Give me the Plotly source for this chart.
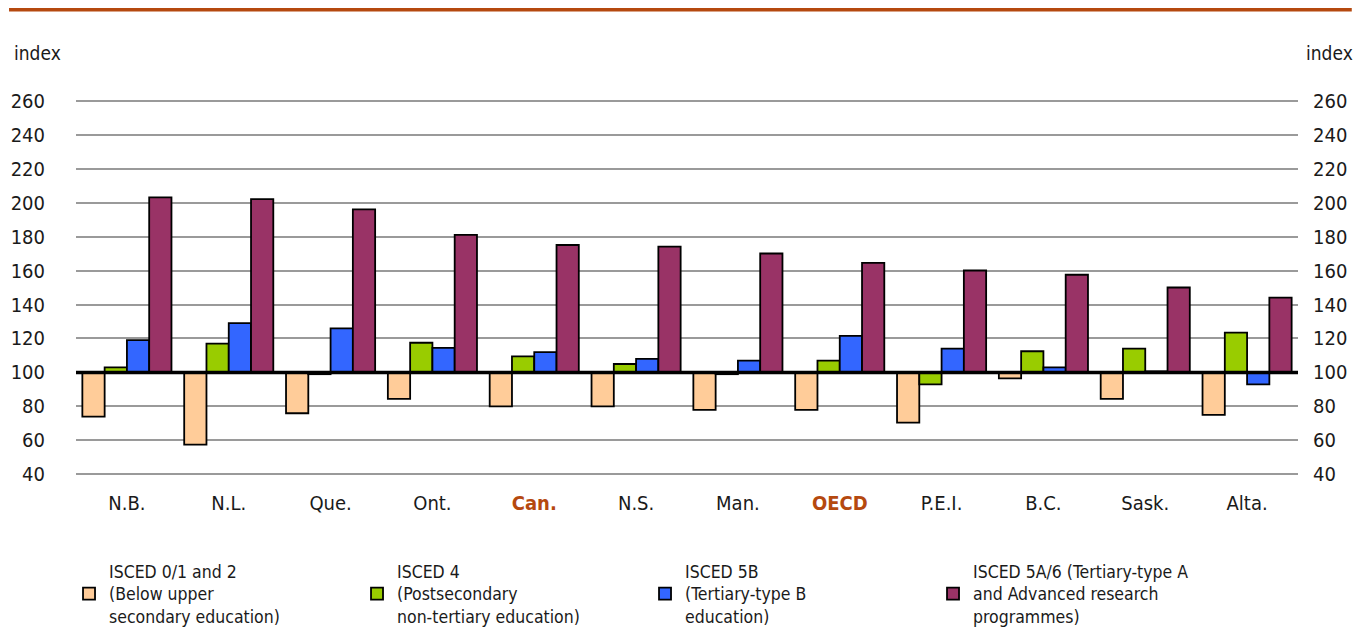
import plotly.graph_objects as go

# Provinces / reference rows, in chart order
regions = ['N.B.', 'N.L.', 'Que.', 'Ont.', 'Can.', 'N.S.', 'Man.', 'OECD',
           'P.E.I.', 'B.C.', 'Sask.', 'Alta.']

# Relative earnings index (upper secondary = 100)
isced_012 = [74, 57.5, 76, 84.5, 80, 80, 78, 78, 70.5, 96.5, 84.5, 75]
isced_4 = [103, 117, 99, 117.5, 109.5, 105, 99, 107, 93, 112.5, 114, 123.5]
isced_5b = [119, 129, 126, 114.5, 112, 108, 107, 121.5, 114, 103, 100.7, 93]
isced_5a6 = [203, 202, 196, 181, 175, 174, 170, 164.5, 160, 157.5, 150, 144]

series_names = [
    'ISCED 0/1 and 2<br>(Below upper<br>secondary education)',
    'ISCED 4<br>(Postsecondary<br>non-tertiary education)',
    'ISCED 5B<br>(Tertiary-type B<br>education)',
    'ISCED 5A/6 (Tertiary-type A<br>and Advanced research<br>programmes)',
]
series_values = [isced_012, isced_4, isced_5b, isced_5a6]
series_colours = ['#FFCC99', '#99CC00', '#3366FF', '#993366']

highlighted = ['Can.', 'OECD']
y_ticks = list(range(40, 261, 20))

BASE = 100
ACCENT = '#B5490F'
FONT = 'Liberation Sans Narrow, DejaVu Sans Condensed, sans-serif'
TEXT_COLOUR = '#1a1a1a'

tick_text = []
for r in regions:
    if r in highlighted:
        tick_text.append("<b><span style='color:%s'>%s</span></b>" % (ACCENT, r))
    else:
        tick_text.append(r)

fig = go.Figure()

for name, values, colour in zip(series_names, series_values, series_colours):
    fig.add_trace(go.Bar(
        x=regions,
        y=[v - BASE for v in values],
        base=BASE,
        name=name,
        marker=dict(color=colour, line=dict(color='black', width=1.8)),
    ))

# invisible trace so the right-hand axis is drawn
fig.add_trace(go.Scatter(x=[regions[0]], y=[BASE], yaxis='y2', mode='markers',
                         marker=dict(opacity=0, size=1), showlegend=False,
                         hoverinfo='skip'))

# page body has an 8px margin, so the figure is 16px smaller than the window
fig.update_layout(
    width=1356, height=620,
    margin=dict(l=68, r=66, t=90, b=150.5, autoexpand=False),
    paper_bgcolor='white', plot_bgcolor='white',
    font=dict(family=FONT, size=20, color=TEXT_COLOUR),
    barmode='group', bargap=0.125, bargroupgap=0,
    showlegend=True,
    legend=dict(
        orientation='h', xref='container', yref='container',
        x=0.045, xanchor='left', y=0.121, yanchor='top',
        entrywidth=243, entrywidthmode='pixels', valign='middle',
        font=dict(family=FONT, size=17.5, color=TEXT_COLOUR),
        traceorder='normal', bgcolor='rgba(0,0,0,0)',
    ),
    xaxis=dict(
        tickmode='array', tickvals=regions, ticktext=tick_text,
        range=[-0.5, len(regions) - 0.5],
        showgrid=False, showline=False, zeroline=False, ticks='',
        ticklabelstandoff=12, fixedrange=True,
    ),
    yaxis=dict(
        range=[38.5, 261.5], tickvals=y_ticks, showgrid=True,
        gridcolor='#9a9a9a', gridwidth=2, zeroline=False, showline=False,
        ticks='', ticklabelstandoff=30,
    ),
    yaxis2=dict(
        range=[38.5, 261.5], tickvals=y_ticks, overlaying='y', side='right',
        showgrid=False, zeroline=False, showline=False, ticks='',
        ticklabelstandoff=14,
    ),
    shapes=[
        # heavy baseline at index 100
        dict(type='line', xref='paper', x0=0, x1=1, yref='y', y0=BASE, y1=BASE,
             line=dict(color='black', width=3.5), layer='above'),
        # accent rule across the top
        dict(type='line', xref='paper', x0=-0.0548, x1=1.044, yref='paper',
             y0=1.2332, y1=1.2332, line=dict(color=ACCENT, width=4)),
    ],
    annotations=[
        dict(text='index', xref='paper', x=-0.052, xanchor='left',
             yref='paper', y=1.118, yanchor='middle', showarrow=False,
             font=dict(family=FONT, size=19, color=TEXT_COLOUR)),
        dict(text='index', xref='paper', x=1.0466, xanchor='right',
             yref='paper', y=1.118, yanchor='middle', showarrow=False,
             font=dict(family=FONT, size=19, color=TEXT_COLOUR)),
    ],
)

fig.write_html("out.html")
